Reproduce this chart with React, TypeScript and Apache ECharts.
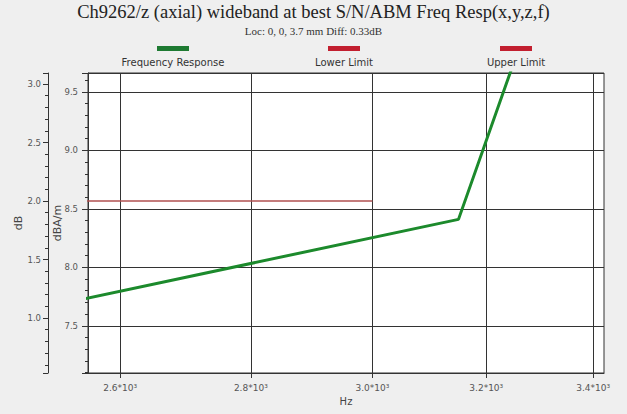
import React, { useEffect, useRef } from "react";
import * as echarts from "echarts";

// ---- data ----
const titleText = "Ch9262/z (axial) wideband at best S/N/ABM Freq Resp(x,y,z,f)";
const subtitleText = "Loc: 0, 0, 3.7 mm Diff: 0.33dB";
const seriesNames = ["Frequency Response", "Lower Limit", "Upper Limit"];

const xTicksHz = [2600, 2800, 3000, 3200, 3400];
const xRangeHz = [2553, 3421];

const respFreqHz = [2500, 3150, 3300];
const respDbAm = [7.67, 8.41, 10.4];

const limitFreqHz = [2500, 3000];
const upperLimitDb = [2.0, 2.0];
const lowerLimitDb = [-2.0, -2.0];

const dbamRange = [7.096, 9.662];
const dbRange = [0.53, 3.094];

const lg = (v: number) => Math.log10(v);

export default function App() {
  const ref = useRef<HTMLDivElement>(null);
  useEffect(() => {
    if (!ref.current) return;
    const chart = echarts.init(ref.current, undefined, { renderer: "svg" });
    const axisColor = "#333";
    const labelColor = "#555";
    const sans = "DejaVu Sans";
    const legendColors = ["#1e7a32", "#c21f2f", "#c21f2f"];
    const legendCenters = [173, 344, 516];

    const option: any = {
      animation: false,
      backgroundColor: "#efefef",
      title: {
        text: titleText,
        subtext: subtitleText,
        left: "center",
        top: 0,
        itemGap: 4,
        padding: [2, 0, 0, 0],
        textStyle: { fontFamily: "Liberation Serif", fontSize: 18.5, fontWeight: "normal", color: "#222" },
        subtextStyle: { fontFamily: "Liberation Serif", fontSize: 11, color: "#333" },
      },
      legend: seriesNames.map((name, i) => ({
        data: [{ name, icon: "rect", itemStyle: { color: legendColors[i], borderWidth: 0 } }],
        left: legendCenters[i] - 16,
        top: 46,
        padding: 0,
        itemWidth: 32,
        itemHeight: 5,
        itemGap: 0,
        selectedMode: false,
        formatter: () => "",
        textStyle: { fontSize: 5, lineHeight: 5 },
      })),
      graphic: seriesNames.map((name, i) => ({
        type: "text",
        x: legendCenters[i],
        y: 62,
        silent: true,
        style: {
          text: name,
          align: "center",
          verticalAlign: "middle",
          fontFamily: sans,
          fontSize: 10,
          fill: "#333",
        },
      })),
      grid: {
        left: 88,
        top: 73,
        width: 516,
        height: 300,
        show: true,
        backgroundColor: "#ffffff",
        borderColor: axisColor,
        borderWidth: 1,
      },
      xAxis: {
        type: "value",
        min: lg(xRangeHz[0]),
        max: lg(xRangeHz[1]),
        position: "bottom",
        name: "Hz",
        nameLocation: "middle",
        nameGap: 23,
        nameMoveOverlap: false,
        nameTextStyle: { fontFamily: sans, fontSize: 10, color: "#444" },
        axisLine: { show: true, lineStyle: { color: axisColor } },
        axisTick: { show: true, length: 5, customValues: xTicksHz.map(lg), lineStyle: { color: axisColor } },
        axisLabel: {
          customValues: xTicksHz.map(lg),
          margin: 10,
          fontFamily: sans,
          fontSize: 9,
          color: labelColor,
          formatter: (v: number) => (Math.pow(10, v) / 1000).toFixed(1) + "*10³",
        },
        splitLine: { show: true, lineStyle: { color: axisColor, width: 1 } },
      },
      yAxis: [
        {
          type: "value",
          min: dbamRange[0],
          max: dbamRange[1],
          splitNumber: 5,
          position: "left",
          offset: 0,
          name: "dBA/m",
          nameLocation: "middle",
          nameGap: 25,
          nameMoveOverlap: false,
          nameTextStyle: { fontFamily: sans, fontSize: 11, color: "#444" },
          axisLine: { show: true, lineStyle: { color: axisColor } },
          axisTick: { show: true, length: 6, lineStyle: { color: axisColor } },
          minorTick: { show: true, splitNumber: 5, length: 3, lineStyle: { color: axisColor } },
          axisLabel: {
            showMinLabel: false,
            showMaxLabel: false,
            margin: 10,
            fontFamily: sans,
            fontSize: 8.5,
            color: labelColor,
            formatter: (v: number) => v.toFixed(1),
          },
          splitLine: { show: true, lineStyle: { color: axisColor, width: 1 } },
        },
        {
          type: "value",
          min: dbRange[0],
          max: dbRange[1],
          splitNumber: 5,
          position: "left",
          offset: 40,
          name: "dB",
          nameLocation: "middle",
          nameGap: 24,
          nameMoveOverlap: false,
          nameTextStyle: { fontFamily: sans, fontSize: 11, color: "#444" },
          axisLine: { show: true, lineStyle: { color: axisColor } },
          axisTick: { show: true, length: 5, lineStyle: { color: axisColor } },
          minorTick: { show: true, splitNumber: 5, length: 3, lineStyle: { color: axisColor } },
          axisLabel: {
            showMinLabel: false,
            showMaxLabel: false,
            margin: 7,
            fontFamily: sans,
            fontSize: 8.5,
            color: labelColor,
            formatter: (v: number) => v.toFixed(1),
          },
          splitLine: { show: false },
        },
      ],
      series: [
        {
          name: seriesNames[0],
          type: "line",
          yAxisIndex: 0,
          symbol: "none",
          clip: true,
          color: legendColors[0],
          lineStyle: { color: "#1c8a2c", width: 3 },
          data: respFreqHz.map((f, i) => [lg(f), respDbAm[i]]),
        },
        {
          name: seriesNames[1],
          type: "line",
          yAxisIndex: 1,
          symbol: "none",
          clip: true,
          color: legendColors[1],
          lineStyle: { color: "#b05050", width: 1.5 },
          data: limitFreqHz.map((f, i) => [lg(f), lowerLimitDb[i]]),
        },
        {
          name: seriesNames[2],
          type: "line",
          yAxisIndex: 1,
          symbol: "none",
          clip: true,
          color: legendColors[2],
          lineStyle: { color: "#b05050", width: 1.5 },
          data: limitFreqHz.map((f, i) => [lg(f), upperLimitDb[i]]),
        },
      ],
    };
    chart.setOption(option);
    return () => chart.dispose();
  }, []);
  return (
    <div
      ref={ref}
      style={{ position: "fixed", left: 0, top: 0, width: 627, height: 414 }}
    />
  );
}
